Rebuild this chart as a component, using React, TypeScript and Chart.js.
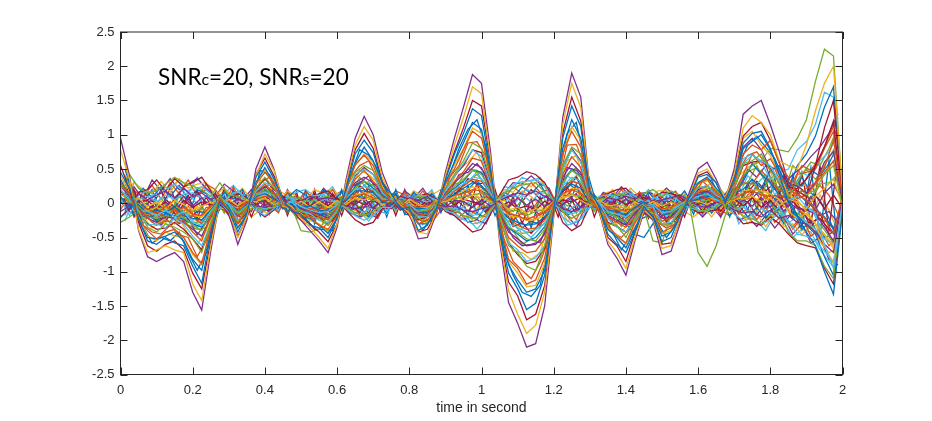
import React, { useEffect, useRef } from 'react';
import { Chart, registerables } from 'chart.js';

Chart.register(...registerables);

// sampled every 0.025 s, 0 to 2 s
const times = [
  0, 0.025, 0.05, 0.075, 0.1, 0.125, 0.15, 0.175, 0.2, 0.225,
  0.25, 0.275, 0.3, 0.325, 0.35, 0.375, 0.4, 0.425, 0.45, 0.475,
  0.5, 0.525, 0.55, 0.575, 0.6, 0.625, 0.65, 0.675, 0.7, 0.725,
  0.75, 0.775, 0.8, 0.825, 0.85, 0.875, 0.9, 0.925, 0.95, 0.975,
  1, 1.025, 1.05, 1.075, 1.1, 1.125, 1.15, 1.175, 1.2, 1.225,
  1.25, 1.275, 1.3, 1.325, 1.35, 1.375, 1.4, 1.425, 1.45, 1.475,
  1.5, 1.525, 1.55, 1.575, 1.6, 1.625, 1.65, 1.675, 1.7, 1.725,
  1.75, 1.775, 1.8, 1.825, 1.85, 1.875, 1.9, 1.925, 1.95, 1.975,
  2,
];

// the second group of traces is read halfway between those times
const timesMid = [
  0.0125, 0.0375, 0.0625, 0.0875, 0.1125, 0.1375, 0.1625, 0.1875, 0.2125, 0.2375,
  0.2625, 0.2875, 0.3125, 0.3375, 0.3625, 0.3875, 0.4125, 0.4375, 0.4625, 0.4875,
  0.5125, 0.5375, 0.5625, 0.5875, 0.6125, 0.6375, 0.6625, 0.6875, 0.7125, 0.7375,
  0.7625, 0.7875, 0.8125, 0.8375, 0.8625, 0.8875, 0.9125, 0.9375, 0.9625, 0.9875,
  1.0125, 1.0375, 1.0625, 1.0875, 1.1125, 1.1375, 1.1625, 1.1875, 1.2125, 1.2375,
  1.2625, 1.2875, 1.3125, 1.3375, 1.3625, 1.3875, 1.4125, 1.4375, 1.4625, 1.4875,
  1.5125, 1.5375, 1.5625, 1.5875, 1.6125, 1.6375, 1.6625, 1.6875, 1.7125, 1.7375,
  1.7625, 1.7875, 1.8125, 1.8375, 1.8625, 1.8875, 1.9125, 1.9375, 1.9625, 1.9875,
];

const s00 = [
  .45,.22,-.22,-.55,-.6,-.5,-.58,-.62,-.92,-1.17,
  -.45,.02,-.1,-.42,-.15,.38,.6,.36,.05,-.12,
  -.16,-.32,-.36,-.5,-.22,.22,.72,.92,.74,.3,
  .14,-.08,-.06,-.4,-.32,-.08,.34,.72,1.02,1.38,
  1.28,.5,-.42,-1.02,-1.25,-1.55,-1.46,-1.05,-.12,.95,
  1.42,1.12,.18,-.04,-.45,-.6,-.72,-.42,-.05,-.2,
  -.56,-.5,-.18,.08,.38,.42,.3,.02,.35,.88,
  1.02,1.05,.8,.42,.02,-.2,-.42,-.62,-1.0,-1.33,
  -.12,
];
const s01 = [
  .3,.12,-.24,-.4,-.52,-.42,-.38,-.5,-.72,-.88,
  -.36,.08,-.12,-.3,-.1,.28,.45,.3,-.02,-.08,
  -.18,-.2,-.32,-.38,-.18,.2,.56,.7,.55,.22,
  .02,.06,-.1,-.3,-.24,-.12,.28,.5,.78,1.05,
  .95,.42,-.28,-.82,-.95,-1.18,-1.12,-.8,-.08,.72,
  1.05,.82,.1,-.1,-.32,-.48,-.58,-.28,-.1,-.12,
  -.42,-.36,-.2,.1,.28,.36,.15,.08,.28,.72,
  .85,.78,.92,.58,.38,.12,.22,.3,.52,.92,
  .1,
];
const s02 = [
  .78,.35,-.38,-.72,-.68,-.62,-.68,-.72,-1.18,-1.42,
  -.62,.02,-.12,-.5,-.2,.4,.72,.48,.02,-.05,
  -.22,-.35,-.5,-.66,-.3,.3,.85,1.12,.92,.38,
  .1,-.02,-.15,-.42,-.45,-.12,.4,.85,1.25,1.7,
  1.6,.65,-.5,-1.28,-1.62,-1.9,-1.78,-1.3,-.18,1.15,
  1.75,1.4,.2,-.1,-.55,-.72,-.95,-.5,-.1,-.22,
  -.66,-.62,-.22,.1,.44,.5,.3,.08,.42,1.1,
  1.28,1.18,1.0,.62,.55,.5,.85,1.35,1.75,2.0,
  .15,
];
const s03 = [
  .95,.40,-.40,-.78,-.85,-.78,-.72,-.85,-1.30,-1.56,
  -.70,.05,-.15,-.60,-.25,.50,.82,.50,.02,-.10,
  -.25,-.40,-.55,-.72,-.35,.35,.95,1.27,1.0,.45,
  .12,-.05,-.15,-.52,-.50,-.15,.45,.95,1.40,1.88,
  1.75,.75,-.55,-1.45,-1.75,-2.1,-2.05,-1.5,-.2,1.25,
  1.9,1.55,.2,-.1,-.6,-.8,-1.05,-.55,-.12,-.25,
  -.75,-.7,-.3,.15,.5,.6,.35,.05,.5,1.3,
  1.42,1.5,1.15,.75,.3,.25,.15,.3,.6,.75,
  .05,
];
const s04 = [
  .22,.3,-.12,-.35,-.42,-.3,-.35,-.42,-.52,-.72,
  -.28,.12,-.1,-.28,-.06,.22,.38,.22,.05,-.12,
  -.1,-.2,-.22,-.32,-.12,.22,.45,.55,.48,.2,
  .1,-.08,-.05,-.22,-.28,-.02,.22,.42,.62,.88,
  .8,.36,-.2,-.62,-.72,-.92,-.98,-.62,-.05,.55,
  .82,.72,.12,-.08,-.3,-.32,-.5,-.22,-.02,-.14,
  -.32,-.32,-.1,.1,.24,.22,.2,-.05,.22,.58,
  .62,.72,.48,.3,.1,.28,.12,.2,.42,.55,
  -.05,
];
const s05 = [
  .2,.05,-.12,-.32,-.3,-.36,-.22,-.3,-.48,-.62,
  -.3,.1,-.02,-.25,-.12,.18,.3,.24,-.02,.02,
  -.12,-.15,-.25,-.28,-.1,.12,.42,.5,.42,.15,
  .05,.04,-.08,-.2,-.2,-.05,.18,.4,.58,.78,
  .68,.28,-.2,-.58,-.68,-.85,-.8,-.62,-.1,.5,
  .78,.6,.08,.02,-.22,-.35,-.42,-.25,-.08,-.05,
  -.3,-.28,-.08,.05,.22,.26,.12,.04,.28,.58,
  .7,.62,.55,.32,.05,.1,-.05,-.15,-.6,-.95,
  .02,
];
const s06 = [
  .55,.2,-.28,-.62,-.7,-.6,-.55,-.68,-1.02,-1.25,
  -.55,.05,-.18,-.48,-.22,.42,.66,.4,.08,-.1,
  -.2,-.3,-.42,-.56,-.3,.28,.78,1.02,.8,.32,
  .1,-.02,-.18,-.42,-.38,-.15,.38,.75,1.1,1.5,
  1.42,.6,-.45,-1.15,-1.35,-1.7,-1.62,-1.2,-.15,1.02,
  1.55,1.2,.18,-.12,-.5,-.62,-.85,-.42,-.15,-.2,
  -.6,-.58,-.25,.12,.4,.46,.3,.02,.42,.98,
  1.12,1.18,.92,.6,.25,.18,.1,.55,1.1,1.5,
  .02,
];
const s07 = [
  .35,.1,-.26,-.5,-.52,-.48,-.42,-.55,-.82,-.98,
  -.42,.04,-.05,-.36,-.18,.3,.52,.28,.02,-.02,
  -.2,-.22,-.32,-.44,-.22,.24,.58,.82,.62,.3,
  .04,-.06,-.1,-.3,-.3,-.08,.3,.6,.88,1.18,
  1.08,.46,-.32,-.9,-1.12,-1.3,-1.25,-.98,-.1,.8,
  1.22,.95,.14,-.06,-.38,-.5,-.65,-.38,-.08,-.18,
  -.48,-.42,-.18,.06,.3,.38,.22,.06,.3,.8,
  .9,1.0,.78,.5,.2,.55,.72,.98,1.4,1.7,
  .08,
];
const s08 = [
  .12,.15,-.1,-.22,-.32,-.25,-.3,-.25,-.42,-.55,
  -.18,.02,-.08,-.2,-.06,.16,.28,.14,.04,-.06,
  -.12,-.12,-.2,-.24,-.06,.1,.35,.48,.32,.18,
  .02,-.02,-.1,-.18,-.15,-.08,.12,.32,.46,.66,
  .62,.25,-.15,-.5,-.62,-.72,-.7,-.52,-.02,.42,
  .68,.52,.04,-.06,-.2,-.28,-.35,-.2,-.06,-.08,
  -.26,-.22,-.12,.06,.16,.2,.1,-.03,.16,.42,
  .72,.55,.65,.42,.22,.12,.05,-.08,-.22,-.45,
  .12,
];
const s09 = [
  .4,.18,-.2,-.48,-.55,-.42,-.48,-.5,-.75,-.9,
  -.38,.05,-.1,-.34,-.16,.3,.48,.32,-.04,-.08,
  -.15,-.25,-.3,-.42,-.22,.24,.55,.72,.6,.25,
  .08,-.05,-.12,-.3,-.28,-.1,.28,.56,.8,1.1,
  1.02,.42,-.32,-.85,-1.02,-1.22,-1.2,-.88,-.12,.72,
  1.12,.92,.12,-.05,-.36,-.46,-.6,-.3,-.1,-.15,
  -.44,-.4,-.18,.12,.28,.34,.2,.05,.32,.95,
  1.05,.85,.7,.42,.12,.05,-.12,-.3,-.62,-.88,
  -.02,
];
const s10 = [
  .25,.1,-.08,-.22,-.28,-.2,-.22,-.28,-.38,-.48,
  -.2,.0,-.1,-.18,-.1,.15,.25,.15,-.02,-.04,
  -.08,-.12,-.16,-.22,-.1,.1,.3,.38,.3,.15,
  .02,-.04,-.05,-.16,-.18,-.02,.15,.3,.42,.58,
  .52,.22,-.15,-.42,-.52,-.62,-.6,-.45,-.05,.38,
  .58,.45,.06,-.04,-.18,-.25,-.32,-.14,-.02,-.1,
  -.22,-.2,-.08,.04,.15,.18,.1,.02,.32,.82,
  .95,.78,.5,.3,.02,-.08,-.1,-.15,-.35,-.55,
  .05,
];
const s11 = [
  .15,.02,-.05,-.2,-.22,-.18,-.22,-.2,-.32,-.4,
  -.15,.06,-.02,-.15,-.05,.12,.22,.1,.05,-.06,
  -.4,-.42,-.38,-.18,-.05,.15,.22,.32,.26,.08,
  .04,.02,-.1,-.12,-.1,.02,.12,.25,.35,.48,
  .42,.2,-.1,-.35,-.42,-.52,-.55,-.38,-.02,.3,
  .48,.38,.02,-.08,-.14,-.2,-.28,-.1,-.08,-.55,
  -.58,-.15,-.05,.02,-.72,-.92,-.62,-.18,.12,.4,
  .55,.62,.8,.78,.75,.95,1.22,1.78,2.25,2.15,
  .12,
];
const s12 = [
  .3,.08,-.1,-.12,-.18,-.1,-.2,-.12,-.28,-.32,
  -.12,.05,.0,-.14,-.04,.12,.16,.12,-.02,.04,
  -.05,-.1,-.14,-.12,-.02,.08,.2,.25,.2,.06,
  .05,-.06,-.02,-.12,-.08,-.02,.08,.2,.28,.38,
  .36,.15,-.05,-.3,-.35,-.42,-.38,-.3,-.02,.25,
  .38,.32,.06,.02,-.12,-.16,-.2,-.1,-.04,-.02,
  -.14,-.12,-.02,.06,.1,.14,.05,.02,.35,.65,
  .72,.6,.35,.45,.5,.78,.9,1.15,1.62,1.55,
  .2,
];
const s13 = [
  .18,.06,-.16,-.3,-.38,-.36,-.28,-.38,-.52,-.68,
  -.3,-.02,-.08,-.28,-.14,.2,.36,.2,.06,-.08,
  -.14,-.18,-.2,-.32,-.16,.12,.4,.52,.42,.2,
  .08,-.1,-.04,-.24,-.2,-.1,.2,.4,.55,.78,
  .74,.3,-.24,-.58,-.75,-.88,-.85,-.66,-.12,.5,
  .8,.62,.1,-.1,-.28,-.34,-.42,-.24,-.08,-.16,
  -.3,-.3,-.16,.04,.2,.26,.12,.08,.22,.55,
  .6,.62,.5,.3,.14,.22,.35,.55,.82,1.2,
  -.05,
];
const s14 = [
  .1,-.05,-.02,-.15,-.1,-.14,-.05,-.18,-.22,-.24,
  -.1,.08,-.04,-.1,-.08,.1,.14,.06,.02,-.02,
  -.06,-.04,-.1,-.12,-.06,.04,.18,.18,.16,.02,
  -.02,.04,-.06,-.08,-.08,-.02,.08,.12,.22,.3,
  .26,.1,-.1,-.22,-.28,-.32,-.3,-.2,-.06,.2,
  .28,.22,.0,-.04,-.1,-.12,-.18,-.06,.02,-.06,
  -.1,-.12,-.04,.02,.06,.1,.08,-.02,.15,.2,
  .35,.22,.48,.55,.32,.15,.02,-.08,-.2,-.38,
  .04,
];
const s15 = [
  .05,.1,-.06,-.08,-.15,-.04,-.12,-.06,-.16,-.18,
  -.04,.03,-.06,-.08,.02,.06,.1,.08,-.04,.03,
  -.02,-.08,-.06,-.1,-.02,.06,.1,.14,.08,.06,
  -.03,.02,-.04,-.06,-.04,.02,.05,.12,.14,.2,
  .18,.06,-.05,-.15,-.18,-.24,-.18,-.14,.02,.14,
  .2,.14,.04,-.02,-.06,-.1,-.1,-.08,-.02,-.03,
  -.08,-.06,.0,.04,.05,.08,.02,.05,.06,.14,
  .18,.12,.1,.12,.05,.42,.45,.5,.8,1.05,
  .08,
];
const s16 = [
  -.05,.04,.08,-.05,.02,-.08,.04,-.02,-.1,-.05,
  .02,-.04,.06,-.04,.05,.02,.08,-.02,.04,-.04,
  .03,-.06,.02,-.06,.04,-.02,.08,.05,.1,-.03,
  .04,-.05,.06,-.02,-.06,.04,.02,.1,.04,.12,
  .08,.02,.06,-.1,-.06,-.14,-.08,-.1,.03,.08,
  .12,.04,-.03,.05,-.04,-.02,-.08,.02,-.05,.03,
  -.04,.02,-.06,.02,.03,-.02,.06,-.03,.08,.06,
  .1,.02,.08,-.04,.06,.02,-.08,.1,.22,.35,
  -.04,
];
const s17 = [
  -.12,-.04,.14,.05,.12,.18,.08,.22,.1,.15,
  .05,.12,-.02,.06,.02,-.04,-.06,-.02,.08,-.02,
  .04,.1,.06,.08,.05,-.04,-.08,-.05,-.06,.02,
  .06,-.04,.08,.04,.1,-.02,-.05,-.04,-.1,-.12,
  -.08,-.05,.04,.1,.15,.12,.18,.1,.02,-.08,
  -.12,-.06,.04,-.03,.08,.05,.1,.06,.12,.02,
  .05,.08,.12,.04,-.04,-.06,.02,-.02,-.1,-.14,
  -.12,-.2,-.1,-.22,-.18,-.28,-.3,-.42,-.6,-.72,
  .06,
];
const s18 = [
  .25,.42,.22,.15,.18,.28,.38,.3,.25,.2,
  .1,.3,.12,.1,.06,-.06,-.1,-.05,.02,.1,
  .06,.02,.08,.1,.04,-.06,-.14,-.18,-.12,-.02,
  .1,.02,.06,.1,.08,.02,-.08,-.1,-.18,-.22,
  -.2,-.1,.1,.18,.25,.28,.3,.16,.04,-.12,
  -.22,-.14,.02,.08,.06,.14,.12,.02,.14,.2,
  .1,.18,.12,.02,-.12,-.1,-.05,.1,-.05,-.2,
  -.22,-.3,-.18,-.1,-.42,-.55,-.55,-.62,-.92,-1.1,
  .02,
];
const s19 = [
  .08,-.18,.12,.18,.1,.2,.28,.18,.2,.24,
  .14,-.05,.1,.18,.04,-.1,-.18,-.08,.06,.08,
  -.04,.1,.12,.1,.02,-.08,-.18,-.25,-.18,-.06,
  -.06,.08,.04,.12,.1,.05,-.1,-.15,-.24,-.3,
  -.28,-.12,.08,.22,.3,.32,.35,.26,.04,-.2,
  -.3,-.22,-.05,.1,.12,.1,.18,.1,.02,.06,
  .14,.12,.02,-.06,-.1,-.12,-.02,.06,-.16,-.25,
  -.22,-.3,-.25,-.15,-.25,-.45,-.48,-.55,-.7,-.85,
  -.08,
];
const s20 = [
  -.2,-.08,.16,.2,.34,.18,.36,.24,.3,.38,
  .18,-.04,.06,.14,.08,-.1,-.2,-.1,.1,.02,
  .05,.06,.14,.18,.06,-.1,-.24,-.32,-.28,-.08,
  -.04,.1,.06,.1,.14,.06,-.12,-.18,-.3,-.42,
  -.38,-.16,.12,.34,.38,.46,.42,.3,.05,-.28,
  -.4,-.32,-.02,.06,.14,.2,.22,.08,.08,.05,
  .16,.14,.1,-.05,-.14,-.12,-.1,.02,-.14,-.3,
  -.28,-.32,-.2,-.3,-.45,-.58,-.62,-.65,-.95,-1.18,
  -.1,
];
const s21 = [
  .02,-.12,-.2,-.18,-.25,-.15,-.18,-.24,-.3,-.35,
  -.2,-.02,-.12,-.15,-.02,.18,.2,.12,-.08,.04,
  -.08,-.14,-.16,-.18,-.1,.06,.25,.32,.22,.12,
  .0,.06,-.12,-.12,-.14,-.06,.14,.22,.32,.48,
  .45,.18,-.12,-.36,-.45,-.55,-.5,-.34,-.08,.3,
  .5,.38,.02,-.06,-.16,-.18,-.3,-.45,-.5,-.3,
  -.18,-.14,-.1,.08,.12,.18,.04,.02,.2,.32,
  .58,.42,.3,.12,.08,-.18,-.32,-.45,-.78,-1.05,
  -.06,
];
const s22 = [
  -.1,.15,-.04,-.18,-.12,-.2,-.08,-.2,-.18,-.3,
  -.1,.06,.05,-.14,.02,.08,.18,.04,.02,-.08,
  -.06,-.1,-.1,-.16,-.04,.1,.14,.25,.15,.04,
  .06,-.03,-.06,-.1,-.12,.04,.08,.18,.25,.35,
  .32,.16,-.08,-.22,-.32,-.38,-.36,-.25,.03,.22,
  .32,.28,.05,-.05,-.08,-.16,-.22,-.12,.04,-.1,
  -.14,-.14,-.04,.03,.1,.12,.06,-.04,.12,.3,
  .28,.48,.32,.18,.26,.06,.12,.28,.45,.62,
  -.02,
];
const s23 = [
  .2,.06,-.02,-.12,-.06,-.14,-.1,-.08,-.18,-.2,
  -.08,.1,-.08,-.06,-.06,.1,.12,.04,-.06,.05,
  -.04,-.06,-.1,-.06,-.04,.02,.12,.15,.14,-.02,
  .04,-.06,.02,-.1,-.04,-.04,.06,.1,.18,.24,
  .2,.12,-.02,-.18,-.2,-.25,-.24,-.18,-.03,.12,
  .22,.2,-.02,.03,-.1,-.08,-.14,-.02,-.06,.02,
  -.1,-.05,-.06,.06,.04,.1,.03,.06,.04,.18,
  .2,.18,.14,.05,-.12,-.22,-.15,-.3,-.45,-.62,
  .1,
];
const s24 = [
  .08,-.1,.04,-.02,-.1,.05,-.06,.1,-.04,.08,
  -.05,.06,-.06,.08,-.03,.05,-.04,.05,-.08,.06,
  -.02,.08,-.04,.02,-.06,.05,-.02,.08,-.08,.04,
  -.08,.06,.0,.05,-.03,.06,-.05,.04,.03,-.06,
  .05,-.04,.02,-.06,.08,-.03,.06,-.05,.04,-.02,
  .08,-.06,.03,-.06,.04,-.04,.06,-.03,.05,-.05,
  .04,-.06,.05,-.03,.06,-.05,.02,.05,-.06,.05,
  -.04,.08,-.06,.1,-.05,.08,.12,-.1,.15,.28,
  .03,
];
const s25 = [
  -.28,-.2,-.1,-.1,-.05,-.12,-.02,-.14,-.12,-.08,
  -.14,.0,-.1,-.12,.02,.04,.06,.02,.05,-.1,
  -.02,-.12,-.02,-.06,.02,.04,.05,.1,.04,.08,
  -.04,.08,-.08,-.02,-.1,.06,.02,.06,.1,.12,
  .15,.02,.02,-.12,-.1,-.18,-.12,-.1,-.04,.08,
  .12,.1,.02,-.06,-.02,-.08,-.05,-.1,-.02,-.08,
  -.02,-.1,.02,-.05,.02,.04,.08,-.06,.05,.08,
  .32,.12,.38,.2,.18,.32,.5,.35,.55,.78,
  -.06,
];
const s26 = [
  -.22,-.06,.06,.1,.02,.12,.05,.14,.15,.08,
  .1,-.08,.08,.02,.08,-.05,-.08,-.06,-.02,.1,
  .02,.06,.02,.08,-.02,-.06,-.06,-.14,-.04,-.08,
  .08,-.02,.1,.04,.02,.08,-.04,-.08,-.06,-.18,
  -.14,-.02,.05,.12,.1,.2,.14,.15,.06,-.1,
  -.16,-.1,-.06,.06,.02,.08,.04,.1,-.03,.08,
  .04,.06,-.02,.02,-.05,-.02,-.06,.02,-.1,-.05,
  -.18,-.08,-.15,-.06,-.3,-.18,-.28,-.38,-.52,-.6,
  .14,
];
const s27 = [
  .0,.12,.02,.04,-.08,.02,-.12,.04,-.06,.02,
  -.02,-.06,.02,-.05,.06,-.02,.04,-.08,.02,-.02,
  .06,-.04,.05,-.04,.08,-.05,.04,-.02,.05,-.06,
  .02,-.08,.05,-.06,.04,-.06,.08,-.02,.06,.02,
  -.02,.08,-.06,.02,-.08,-.04,-.1,.03,-.06,.05,
  .02,.08,-.06,.02,-.06,.06,-.02,.05,-.08,.04,
  -.06,.04,-.08,.06,-.02,.04,-.06,.02,.06,-.04,
  .08,-.06,.04,-.1,.1,-.05,-.12,.12,-.08,.12,
  -.08,
];

const m00 = [
  .5,.08,-.34,-.58,-.5,-.55,-.42,-.72,-.98,-.72,
  -.25,.1,-.32,-.26,.02,.48,.42,.22,-.12,-.02,
  -.22,-.38,-.38,-.4,.05,.42,.78,.7,.5,.12,
  .14,-.16,-.18,-.4,-.2,.18,.42,.8,1.08,1.22,
  .82,.05,-.7,-1.05,-1.3,-1.36,-1.2,-.58,.35,1.02,
  1.18,.56,.1,-.28,-.42,-.68,-.48,-.24,-.18,-.28,
  -.5,-.32,-.12,.26,.32,.34,.05,.22,.55,.85,
  .98,.82,.65,.3,.18,.38,.15,.05,-.22,-.55,
];
const m01 = [
  .28,.12,-.32,-.42,-.45,-.32,-.46,-.5,-.78,-.55,
  -.2,.04,-.14,-.32,.1,.3,.38,.1,.02,-.16,
  -.1,-.28,-.35,-.22,-.04,.38,.55,.62,.34,.22,
  -.06,.04,-.22,-.26,-.24,.02,.38,.55,.88,.9,
  .68,.02,-.52,-.85,-.98,-1.1,-.86,-.5,.28,.85,
  .86,.52,-.04,-.12,-.42,-.5,-.36,-.2,.02,-.28,
  -.36,-.3,.02,.12,.32,.2,.14,.1,.48,.7,
  .75,.58,.5,.22,.32,.55,.48,.68,.98,1.25,
];
const m02 = [
  .42,-.1,-.2,-.36,-.25,-.34,-.22,-.45,-.6,-.4,
  -.05,-.08,-.22,-.12,-.02,.34,.22,.2,-.1,.06,
  -.2,-.12,-.3,-.2,.06,.22,.48,.42,.3,.04,
  .1,-.12,-.06,-.28,-.08,.16,.24,.5,.6,.75,
  .45,.1,-.36,-.7,-.72,-.82,-.72,-.28,.22,.62,
  .7,.3,.1,-.18,-.22,-.42,-.26,-.22,.06,-.22,
  -.3,-.14,-.1,.2,.2,.3,.02,.16,.4,.52,
  .6,.62,.3,.32,.08,-.12,-.22,-.38,-.55,-.78,
];
const m03 = [
  .18,.15,-.22,-.2,-.32,-.18,-.3,-.22,-.46,-.28,
  -.14,.06,-.18,-.2,.05,.18,.28,.02,.06,-.14,
  -.04,-.22,-.14,-.26,-.08,.24,.3,.4,.16,.14,
  -.08,.08,-.16,-.12,-.2,.1,.16,.42,.45,.58,
  .42,-.06,-.25,-.5,-.62,-.6,-.56,-.3,.1,.52,
  .48,.35,-.06,-.06,-.3,-.22,-.32,-.04,-.12,-.1,
  -.28,-.1,-.08,.14,.1,.22,-.02,.12,.22,.5,
  .38,.55,.2,.28,.42,.52,.68,.82,1.02,1.3,
];
const m04 = [
  .08,-.04,-.3,-.1,-.28,-.26,-.12,-.32,-.38,-.36,
  -.02,.02,-.2,-.08,-.1,.22,.16,.12,-.1,.04,
  -.18,-.08,-.24,-.1,.1,.12,.38,.26,.28,.02,
  .08,-.14,-.02,-.22,-.06,-.04,.26,.3,.5,.48,
  .4,.08,-.34,-.4,-.6,-.52,-.58,-.2,.2,.42,
  .52,.2,.08,-.16,-.12,-.34,-.18,-.16,.02,-.2,
  -.16,-.2,.04,.04,.2,.1,.12,-.02,.25,.3,
  .55,.3,.42,.12,-.1,-.2,-.35,-.3,-.48,-.7,
];
const m05 = [
  .32,.1,-.1,-.28,-.12,-.2,-.26,-.14,-.36,-.18,
  -.12,.12,-.04,-.2,.06,.1,.22,.02,.1,-.12,
  -.12,-.02,-.2,-.12,-.04,.2,.2,.32,.1,.16,
  -.1,.12,-.12,-.04,-.16,.08,.05,.3,.3,.46,
  .22,.08,-.16,-.42,-.38,-.5,-.36,-.22,.06,.4,
  .3,.28,-.08,.02,-.24,-.12,-.28,.04,-.12,.02,
  -.2,-.02,-.14,.1,.04,.2,-.06,.1,.1,.4,
  .28,.42,.12,.32,.22,.45,.38,.62,.75,1.0,
];
const m06 = [
  -.06,.2,-.16,-.04,-.24,-.06,-.24,-.12,-.22,-.28,
  .04,-.08,-.14,-.02,-.12,.18,.06,.14,-.12,.1,
  -.06,-.18,-.02,-.18,.08,.02,.26,.14,.22,-.04,
  .12,-.06,-.14,-.02,-.18,.1,.1,.18,.36,.28,
  .3,-.08,-.06,-.34,-.28,-.44,-.28,-.16,.12,.22,
  .38,.1,.12,-.14,-.02,-.24,-.08,-.14,.08,-.14,
  -.08,-.18,.06,-.04,.14,.04,.12,-.04,.18,.16,
  .32,.18,.3,.02,.12,-.12,-.28,-.22,-.38,-.5,
];
const m07 = [
  .16,-.16,-.02,-.2,-.04,-.2,-.04,-.24,-.12,-.14,
  -.12,.1,-.12,-.1,.08,.02,.18,-.06,.08,-.06,
  -.14,.02,-.16,-.02,-.1,.16,.08,.24,.02,.12,
  -.08,.06,-.02,-.16,.02,-.08,.18,.12,.2,.34,
  .14,.1,-.18,-.16,-.36,-.26,-.32,-.06,.02,.3,
  .2,.2,-.06,.02,-.18,-.1,-.2,.02,-.14,.04,
  -.16,-.04,-.1,.1,-.02,.16,-.04,.08,.02,.24,
  .14,.28,.05,.24,.32,.25,.48,.4,.58,.85,
];
const m08 = [
  .02,.14,-.2,-.1,-.18,.02,-.2,-.04,-.26,-.06,
  -.06,-.1,-.02,-.18,-.02,.14,-.02,.16,-.12,.04,
  .02,-.16,-.06,-.14,.06,-.04,.2,.06,.18,-.06,
  .1,-.1,.04,-.14,-.1,.08,.02,.2,.1,.26,
  .2,-.06,-.04,-.24,-.14,-.3,-.14,-.14,.1,.12,
  .26,.04,.08,-.1,.02,-.18,-.02,-.12,.08,-.1,
  -.02,-.14,.08,-.04,.12,-.02,.1,-.06,.14,.06,
  .24,.06,.22,-.06,.04,-.16,-.02,-.24,-.28,-.42,
];
const m09 = [
  .12,-.12,.02,-.18,.04,-.16,-.06,-.18,-.04,-.2,
  .06,-.02,-.14,.04,-.1,.1,.1,-.06,.1,-.12,
  -.08,.06,-.14,.04,-.08,.14,.02,.16,-.02,.14,
  -.1,.04,-.12,.02,-.12,-.04,.12,.02,.2,.12,
  .18,-.1,.06,-.2,-.1,-.24,-.2,.02,-.06,.18,
  .1,.16,-.08,.06,-.14,.02,-.16,.06,-.08,.06,
  -.14,.02,-.1,.08,-.04,.12,-.08,.1,-.02,.18,
  .04,.2,-.02,.18,.12,.3,.18,.36,.52,.7,
];
const m10 = [
  -.14,.16,-.08,.06,-.16,.02,-.18,.08,-.14,.02,
  -.12,.06,.06,-.14,.1,-.06,.1,.04,-.1,.08,
  .04,-.12,.06,-.12,.08,-.1,.1,-.04,.12,-.08,
  .06,-.12,.1,-.06,.08,-.12,.08,.02,.12,-.02,
  .1,.02,-.1,.04,-.16,-.04,-.18,.06,-.1,.06,
  .14,-.06,.1,-.1,.06,-.12,.02,-.08,.1,-.1,
  .04,-.12,.08,-.08,.1,-.06,.12,-.08,.06,.02,
  .14,-.06,.12,-.12,.08,-.14,.1,-.18,-.12,-.28,
];
const m11 = [
  .24,-.06,.1,-.12,.08,-.14,.1,-.1,.02,-.16,
  .08,-.14,.02,.1,-.1,.08,-.04,.1,-.14,.02,
  -.12,.08,-.1,.02,-.12,.08,-.06,.1,-.1,.06,
  -.12,.08,-.04,.1,-.12,.04,-.08,.1,-.04,.1,
  -.06,.12,-.02,-.12,.06,-.14,.04,-.1,.08,-.04,
  .06,.1,-.12,.06,-.08,.1,-.1,.08,-.14,.06,
  -.06,.1,-.1,.06,-.08,.1,-.04,.08,-.1,.1,
  -.04,.12,-.08,.14,.02,.2,.06,.28,.3,.42,
];
const m12 = [
  -.26,.1,-.12,.12,-.06,.14,-.04,.16,-.02,.12,
  -.1,.12,-.12,.06,.1,-.12,.02,-.1,.12,-.06,
  .1,-.06,.14,-.08,.06,-.1,.04,-.1,.08,-.12,
  .1,-.1,.12,-.02,.1,-.08,.06,-.12,.02,-.12,
  .06,-.1,.1,-.02,.12,.02,.16,-.04,.1,-.12,
  -.02,-.14,.08,-.06,.1,-.04,.12,-.08,.1,-.1,
  .12,-.06,.1,-.12,.02,-.12,.08,-.06,.1,-.14,
  .02,-.12,.06,-.2,.1,-.26,-.08,-.32,-.35,-.5,
];
const m13 = [
  .34,-.14,.18,.02,.16,-.02,.14,.06,.18,-.02,
  .14,-.06,.14,-.1,.04,.08,-.12,.04,-.14,.1,
  -.04,.14,-.04,.14,-.08,.02,-.14,.02,-.12,.06,
  -.08,.12,-.08,.12,-.06,.1,-.12,.02,-.12,.02,
  -.14,.06,.04,.14,.02,.2,.06,.12,-.04,.02,
  -.14,.04,-.1,.1,-.04,.14,.0,.12,-.04,.12,
  -.04,.12,-.06,.08,-.12,.06,-.12,.08,-.14,.02,
  -.18,.04,-.16,.02,-.24,-.08,-.36,-.14,-.46,-.35,
];
const m14 = [
  -.12,.06,.22,.08,.24,.1,.26,.06,.2,.14,
  -.04,.16,.06,.2,-.04,-.08,-.1,.1,.08,.2,
  .12,-.02,.2,.04,.16,-.1,-.06,-.2,.02,-.14,
  .14,-.04,.16,.02,.14,-.02,-.14,-.06,-.16,-.24,
  -.04,.02,.16,.08,.24,.14,.28,.06,.04,-.18,
  -.08,-.14,.12,-.02,.14,.08,.16,-.04,.16,.02,
  .16,.02,.18,-.04,.04,-.14,.02,-.1,-.02,-.2,
  -.06,-.22,-.04,-.3,-.12,-.38,-.26,-.5,-.48,-.68,
];
const m15 = [
  .4,.18,.1,.26,.06,.3,.14,.34,.1,.28,
  .2,.02,.24,-.02,.16,-.14,-.02,-.14,.16,.02,
  .16,.08,.02,.2,-.04,.04,-.18,-.08,-.2,.06,
  -.02,.16,.02,.18,-.02,.12,-.06,-.2,-.1,-.16,
  -.2,.12,.06,.24,.14,.3,.16,.2,-.04,-.08,
  -.24,.02,-.08,.14,.02,.2,.04,.16,.02,.14,
  .04,.18,-.02,.1,-.14,-.02,-.16,.06,-.16,-.08,
  -.24,-.06,-.28,-.14,-.38,-.2,-.48,-.38,-.62,-.5,
];
const m16 = [
  .15,.3,.2,.14,.32,.16,.36,.22,.28,.3,
  .12,.22,.1,.22,.06,-.1,-.16,.02,.18,.1,
  .06,.2,.14,.2,.08,-.12,-.1,-.22,-.06,-.12,
  .14,.02,.18,.1,.16,-.04,-.06,-.22,-.18,-.3,
  -.16,.04,.2,.16,.32,.24,.36,.12,.02,-.26,
  -.18,-.12,.1,.04,.2,.04,.22,.1,.06,.18,
  .18,.06,.14,-.08,-.04,-.2,-.02,-.14,-.08,-.3,
  -.16,-.34,-.14,-.34,-.3,-.46,-.32,-.56,-.72,-.65,
];
const m17 = [
  -.06,.24,.06,.34,.18,.36,.2,.28,.36,.22,
  .1,.28,.18,.04,.2,-.14,-.08,-.08,.2,-.02,
  .18,.04,.22,.08,-.02,-.14,-.2,-.14,-.22,.02,
  .02,.18,.08,.22,.02,.06,-.16,-.12,-.28,-.24,
  -.3,.0,.14,.3,.28,.4,.28,.22,-.08,-.18,
  -.34,-.06,-.02,.16,.08,.24,.1,.14,.16,.1,
  .22,.1,.02,-.06,-.2,-.04,-.2,.02,-.24,-.2,
  -.34,-.18,-.36,-.2,-.45,-.3,-.58,-.5,-.82,-.9,
];
const m18 = [
  .6,-.02,-.12,-.16,-.3,-.1,-.18,-.28,-.28,-.26,
  -.02,.1,-.26,-.06,-.1,.2,.1,.14,.02,-.2,
  -.1,-.24,-.1,-.26,.02,.06,.32,.22,.12,.06,
  .02,-.12,-.16,-.18,-.1,.0,.22,.2,.32,.42,
  .28,-.02,-.22,-.3,-.44,-.42,-.34,-.24,.08,.28,
  .4,.16,.02,-.18,-.08,-.28,-.18,-.02,-.2,-.12,
  -.12,-.22,-.02,.02,.16,.06,.02,-.06,.3,.46,
  .52,.36,.28,.14,.55,.42,.6,.55,.8,1.12,
];
const m19 = [
  -.18,.32,.14,.18,.24,.22,.34,.14,.38,.2,
  .08,.14,.26,.12,.12,-.16,-.04,-.12,.1,.16,
  .2,.1,.12,.24,.02,-.16,-.12,-.26,-.1,-.16,
  .1,.1,.14,.06,.2,-.08,-.12,-.24,-.22,-.38,
  -.22,-.06,.24,.22,.38,.32,.38,.14,-.08,-.32,
  -.28,-.18,.06,.02,.14,.14,.18,.04,.2,.06,
  .14,.16,.02,.0,-.18,-.1,-.04,.12,-.3,-.12,
  -.26,-.4,-.16,-.28,-.5,-.38,-.42,-.68,-.85,-1.02,
];
const m20 = [
  .22,-.2,.02,.2,-.14,.24,-.12,.12,-.22,.1,
  -.2,.22,-.16,.16,-.2,.12,-.16,.2,-.18,.16,
  -.24,.2,-.28,.14,-.18,.2,-.14,.24,-.2,.16,
  -.18,.2,-.22,.12,-.26,.18,-.12,.22,-.2,.3,
  -.12,.2,-.24,.1,-.3,.06,-.34,.14,-.2,.24,
  -.1,.26,-.2,.14,-.26,.1,-.3,.16,-.22,.14,
  -.28,.1,-.2,.18,-.16,.22,-.2,.14,-.12,.3,
  -.08,.34,-.12,.4,-.2,.45,-.3,.55,-.4,.7,
];
const m21 = [
  .1,.16,-.22,-.04,.2,-.2,.16,-.18,.18,-.22,
  .16,-.14,.2,-.22,.14,-.18,.2,-.12,.16,-.22,
  .18,-.3,.16,-.26,.2,-.12,.22,-.16,.18,-.2,
  .2,-.16,.14,-.3,.16,-.14,.22,-.1,.26,-.16,
  .22,-.18,.12,-.3,.08,-.36,.1,-.28,.2,-.14,
  .28,-.16,.12,-.24,.08,-.3,.14,-.26,.12,-.24,
  .1,-.3,.14,-.16,.2,-.14,.16,-.2,.26,-.1,
  .3,-.16,.36,-.22,.42,-.36,.52,-.5,.62,-.65,
];
const m22 = [
  .15,.05,-.05,-.2,-.16,-.28,-.1,.02,.14,.2,
  .1,-.1,-.24,-.14,.04,.12,.2,.1,-.04,-.2,
  -.3,-.2,-.06,.1,.18,.08,-.08,-.2,-.12,.06,
  .18,.12,-.04,-.2,-.28,-.1,.1,.24,.16,.05,
  -.1,-.04,.12,.02,-.16,-.1,.06,.14,.02,-.12,
  -.04,.1,.04,-.14,-.24,-.12,.06,.16,.08,-.1,
  -.22,-.1,.06,.16,.2,.06,-.1,-.18,-.06,.12,
  .22,.1,-.1,-.24,-.34,-.18,.08,.26,.12,-.16,
];
const m23 = [
  -.08,-.16,.04,.18,.22,.1,-.08,-.2,-.26,-.1,
  .06,.18,.1,-.06,-.2,-.1,.04,.18,.12,-.02,
  -.16,-.02,.12,.2,.06,-.12,-.22,-.1,.1,.2,
  .06,-.12,-.18,-.06,.12,.2,.06,-.14,-.22,-.08,
  .1,.04,-.1,-.02,.18,.1,-.04,-.18,-.02,.12,
  .02,-.1,-.02,.14,.18,.06,-.1,-.2,-.06,.12,
  .18,.06,-.12,-.2,-.08,.1,.2,.06,-.14,-.22,
  -.1,.12,.24,.08,-.2,-.4,-.22,.12,-.1,-.42,
];

const mainSeries = [
  s00, s01, s02, s03, s04, s05, s06, s07, s08, s09,
  s10, s11, s12, s13, s14, s15, s16, s17, s18, s19,
  s20, s21, s22, s23, s24, s25, s26, s27,
];
const midSeries = [
  m00, m01, m02, m03, m04, m05, m06, m07, m08, m09,
  m10, m11, m12, m13, m14, m15, m16, m17, m18, m19,
  m20, m21, m22, m23,
];

const lineColors = ['#0072BD', '#D95319', '#EDB120', '#7E2F8E', '#77AC30', '#4DBEEE', '#A2142F'];
const axisColor = '#262626';

// matlab style box with the ticks pointing inwards, plus the SNR note
const boxPlugin = {
  id: 'box',
  afterDatasetsDraw(chart: any) {
    const { ctx, chartArea: a, scales } = chart;
    const tick = 7;
    ctx.save();
    ctx.strokeStyle = axisColor;
    ctx.lineWidth = 1;
    ctx.strokeRect(a.left, a.top, a.width, a.height);
    ctx.beginPath();
    scales.x.ticks.forEach((t: any) => {
      const px = Math.round(scales.x.getPixelForValue(t.value)) + 0.5;
      ctx.moveTo(px, a.bottom);
      ctx.lineTo(px, a.bottom - tick);
      ctx.moveTo(px, a.top);
      ctx.lineTo(px, a.top + tick);
    });
    scales.y.ticks.forEach((t: any) => {
      const py = Math.round(scales.y.getPixelForValue(t.value)) + 0.5;
      ctx.moveTo(a.left, py);
      ctx.lineTo(a.left + tick, py);
      ctx.moveTo(a.right, py);
      ctx.lineTo(a.right - tick, py);
    });
    ctx.stroke();

    ctx.fillStyle = '#000';
    ctx.textBaseline = 'alphabetic';
    let x = 158;
    [['SNR', 22.5], ['c', 16], ['=20, SNR', 22.5], ['s', 16], ['=20', 22.5]].forEach(([txt, size]: any) => {
      ctx.font = size + 'px Lato';
      ctx.fillText(txt, x, 85);
      x += ctx.measureText(txt).width;
    });
    ctx.restore();
  },
};

const tickLabel = (v: any) => String(Number(Number(v).toFixed(1)));

const toDataset = (vals: number[], xs: number[], i: number) => ({
  data: vals.map((v, j) => ({ x: xs[j], y: v })),
  borderColor: lineColors[i % lineColors.length],
  borderWidth: 1.3,
  pointRadius: 0,
  tension: 0,
});

export default function App() {
  const canvasRef = useRef<HTMLCanvasElement>(null);

  useEffect(() => {
    if (!canvasRef.current) return;
    const chart = new Chart(canvasRef.current, {
      type: 'line',
      data: {
        datasets: [
          ...mainSeries.map((vals, i) => toDataset(vals, times, i)),
          ...midSeries.map((vals, i) => toDataset(vals, timesMid, i + mainSeries.length)),
        ],
      },
      plugins: [boxPlugin],
      options: {
        responsive: false,
        animation: false,
        devicePixelRatio: 1,
        layout: { padding: { top: 32, right: 89.5, left: 0, bottom: 0 } },
        plugins: { legend: { display: false }, tooltip: { enabled: false } },
        scales: {
          x: {
            type: 'linear',
            min: 0,
            max: 2,
            afterFit: (s: any) => { s.height = 46.5; },
            grid: { display: false, drawTicks: false },
            border: { display: false },
            ticks: {
              stepSize: 0.2,
              autoSkip: false,
              maxRotation: 0,
              padding: 8,
              color: axisColor,
              font: { size: 13, family: 'Liberation Sans' },
              callback: tickLabel,
            },
            title: {
              display: true,
              text: 'time in second',
              color: axisColor,
              font: { size: 14, family: 'Liberation Sans' },
              padding: { top: 0, bottom: 4 },
            },
          },
          y: {
            min: -2.5,
            max: 2.5,
            afterFit: (s: any) => { s.width = 120.5; },
            grid: { display: false, drawTicks: false },
            border: { display: false },
            ticks: {
              stepSize: 0.5,
              padding: 6,
              color: axisColor,
              font: { size: 13, family: 'Liberation Sans' },
              callback: tickLabel,
            },
          },
        },
      },
    } as any);
    return () => chart.destroy();
  }, []);

  return (
    <div style={{ position: 'absolute', left: 0, top: 0, width: 932, height: 421 }}>
      <canvas ref={canvasRef} width={932} height={421} />
    </div>
  );
}
